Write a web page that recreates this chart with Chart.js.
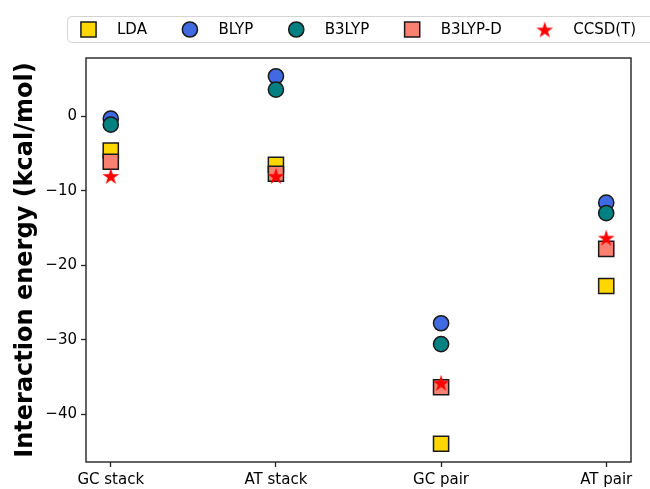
<!DOCTYPE html>
<html>
<head>
<meta charset="utf-8">
<script src="https://cdn.jsdelivr.net/npm/chart.js@4/dist/chart.umd.min.js"></script>
<style>
  html, body { margin: 0; padding: 0; background: #ffffff; }
  #wrap { width: 650px; height: 489px; }
</style>
</head>
<body>
<div id="wrap"><canvas id="c" width="650" height="489"></canvas></div>
<script>
// Interaction energies (kcal/mol) per base-pair configuration and method
const categories = ['GC stack', 'AT stack', 'GC pair', 'AT pair'];
const ldaValues    = [-4.6, -6.5, -44.0, -22.8];
const blypValues   = [-0.3,  5.4, -27.8, -11.6];
const b3lypValues  = [-1.1,  3.6, -30.6, -13.0];
const b3lypDValues = [-6.1, -7.7, -36.4, -17.8];
const ccsdtValues  = [-8.0, -8.0, -35.8, -16.3];
const yTickValues  = [-40, -30, -20, -10, 0];

const FONT = "'DejaVu Sans', 'Liberation Sans', sans-serif";
const EDGE = '#1a1a1a';

// Filled five-pointed star used as a marker image
function makeStar(outer, color) {
  const size = Math.ceil(outer * 2 + 2);
  const cv = document.createElement('canvas');
  cv.width = size; cv.height = size;
  const g = cv.getContext('2d');
  const cx = size / 2, cy = size / 2 + outer * 0.1;
  const inner = outer * 0.382;
  g.beginPath();
  for (let i = 0; i < 10; i++) {
    const r = i % 2 === 0 ? outer : inner;
    const a = -Math.PI / 2 + i * Math.PI / 5;
    const px = cx + r * Math.cos(a), py = cy + r * Math.sin(a);
    if (i === 0) g.moveTo(px, py); else g.lineTo(px, py);
  }
  g.closePath();
  g.fillStyle = color;
  g.fill();
  return cv;
}
const starImg = makeStar(8.8, '#ff0000');

function toPoints(vals) { return vals.map((v, i) => ({ x: i, y: v })); }

const series = [
  { label: 'LDA',     data: ldaValues,    bg: '#ffd700', style: 'rect',   r: 10.7, bw: 1.5 },
  { label: 'BLYP',    data: blypValues,   bg: '#4169e1', style: 'circle', r: 7.6,  bw: 1.5 },
  { label: 'B3LYP',   data: b3lypValues,  bg: '#008080', style: 'circle', r: 7.6,  bw: 1.5 },
  { label: 'B3LYP-D', data: b3lypDValues, bg: '#fa8072', style: 'rect',   r: 10.7, bw: 1.5 },
  { label: 'CCSD(T)', data: ccsdtValues,  bg: '#ff0000', style: starImg,  r: 8.8,  bw: 0 }
];

const datasets = series.map((s, k) => ({
  label: s.label,
  data: toPoints(s.data),
  pointStyle: s.style,
  pointRadius: s.r,
  pointHoverRadius: s.r,
  pointBackgroundColor: s.bg,
  pointBorderColor: EDGE,
  pointBorderWidth: s.bw,
  showLine: false,
  order: series.length - k   // later series drawn on top
}));

// Full box around the plotting area
const framePlugin = {
  id: 'frame',
  afterDatasetsDraw(chart) {
    const { ctx, chartArea: a } = chart;
    ctx.save();
    ctx.strokeStyle = '#222222';
    ctx.lineWidth = 1.4;
    ctx.strokeRect(a.left, a.top, a.right - a.left, a.bottom - a.top);
    ctx.restore();
  }
};

// Single-row framed legend above the axes
const legendPlugin = {
  id: 'rowLegend',
  afterDraw(chart) {
    const ctx = chart.ctx;
    const boxL = 67.5, boxT = 16.5, boxR = 662, boxB = 42.5, rad = 4;
    ctx.save();
    ctx.beginPath();
    ctx.moveTo(boxL + rad, boxT);
    ctx.lineTo(boxR - rad, boxT);
    ctx.arcTo(boxR, boxT, boxR, boxT + rad, rad);
    ctx.lineTo(boxR, boxB - rad);
    ctx.arcTo(boxR, boxB, boxR - rad, boxB, rad);
    ctx.lineTo(boxL + rad, boxB);
    ctx.arcTo(boxL, boxB, boxL, boxB - rad, rad);
    ctx.lineTo(boxL, boxT + rad);
    ctx.arcTo(boxL, boxT, boxL + rad, boxT, rad);
    ctx.closePath();
    ctx.fillStyle = 'rgba(255,255,255,0.85)';
    ctx.fill();
    ctx.strokeStyle = '#d4d4d4';
    ctx.lineWidth = 1;
    ctx.stroke();

    ctx.font = '15px ' + FONT;
    ctx.textBaseline = 'middle';
    ctx.textAlign = 'left';
    const cy = (boxT + boxB) / 2;
    let mx = 88.5;
    series.forEach(s => {
      ctx.fillStyle = s.bg;
      ctx.strokeStyle = EDGE;
      ctx.lineWidth = s.bw;
      Chart.helpers.drawPoint(ctx, { pointStyle: s.style, radius: s.r, borderWidth: s.bw, rotation: 0 }, mx, cy);
      const tx = mx + 28.5;
      ctx.fillStyle = '#000000';
      ctx.fillText(s.label, tx, cy + 0.5);
      mx = tx + ctx.measureText(s.label).width + 43;
    });
    ctx.restore();
  }
};

new Chart(document.getElementById('c'), {
  type: 'scatter',
  data: { datasets },
  options: {
    responsive: false,
    devicePixelRatio: 1,
    animation: false,
    layout: { padding: { left: 0, right: 19, top: 58, bottom: 0 } },
    plugins: {
      legend: { display: false },
      tooltip: { enabled: false }
    },
    scales: {
      x: {
        type: 'linear',
        min: -0.15,
        max: 3.15,
        afterBuildTicks: s => { s.ticks = categories.map((_, i) => ({ value: i })); },
        afterFit: s => { s.height = 27; },
        ticks: {
          callback: v => categories[v] ?? '',
          font: { family: FONT, size: 15 },
          color: '#000000',
          padding: 4,
          maxRotation: 0,
          autoSkip: false
        },
        grid: { drawOnChartArea: false, drawTicks: true, tickLength: 5, tickWidth: 1.3, tickColor: '#222222' },
        border: { display: false }
      },
      y: {
        type: 'linear',
        min: -46.45,
        max: 7.85,
        afterBuildTicks: s => { s.ticks = yTickValues.map(v => ({ value: v })); },
        afterFit: s => { s.width = 86; },
        ticks: {
          callback: v => (v < 0 ? '\u2212' + Math.abs(v) : String(v)),
          font: { family: FONT, size: 15 },
          color: '#000000',
          padding: 4
        },
        grid: { drawOnChartArea: false, drawTicks: true, tickLength: 5, tickWidth: 1.3, tickColor: '#222222' },
        border: { display: false },
        title: {
          display: true,
          text: 'Interaction energy (kcal/mol)',
          font: { family: FONT, size: 24, weight: 'bold' },
          color: '#000000',
          padding: { top: 11, bottom: 0 }
        }
      }
    }
  },
  plugins: [framePlugin, legendPlugin]
});
</script>
</body>
</html>
